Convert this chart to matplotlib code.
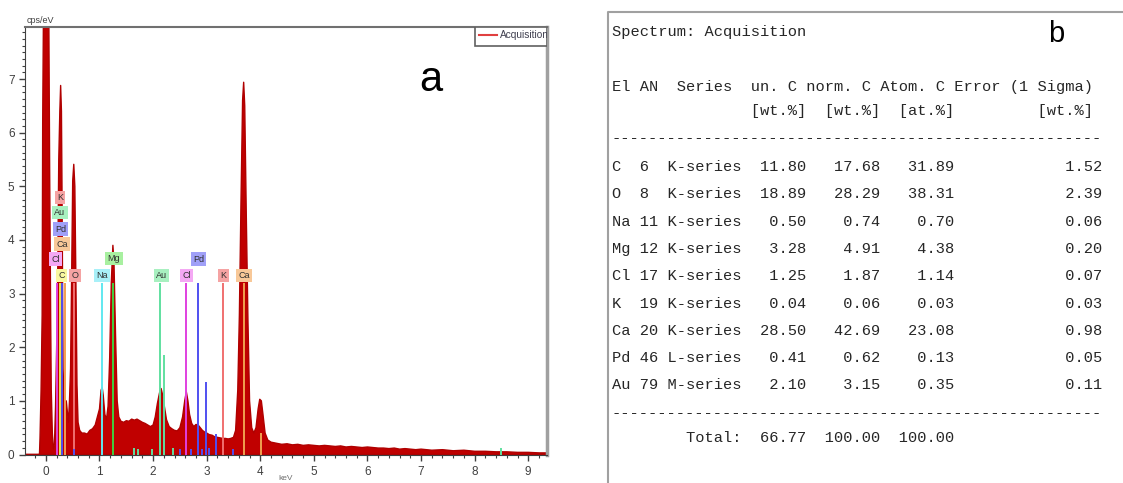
import matplotlib.pyplot as plt
from matplotlib.ticker import MultipleLocator
from matplotlib.patches import Rectangle

# EDS spectrum: energy (keV) and intensity (cps/eV)
energy = [-0.39, -0.12, -0.11, -0.09, -0.07, -0.06, -0.04, 0.01, 0.05, 0.07, 0.09,
          0.10, 0.12, 0.14, 0.16, 0.18, 0.20, 0.22, 0.24, 0.26, 0.275, 0.29, 0.30,
          0.32, 0.34, 0.36, 0.38, 0.40, 0.42, 0.44, 0.46, 0.48, 0.50, 0.52, 0.54,
          0.56, 0.58, 0.60, 0.63, 0.67, 0.72, 0.77, 0.82, 0.87, 0.92, 0.96, 1.00,
          1.03, 1.05, 1.07, 1.10, 1.13, 1.16, 1.19, 1.22, 1.25, 1.27, 1.30, 1.33,
          1.36, 1.40, 1.45, 1.50, 1.55, 1.60, 1.65, 1.70, 1.75, 1.80, 1.85, 1.90,
          1.95, 2.00, 2.04, 2.08, 2.12, 2.15, 2.18, 2.21, 2.25, 2.30, 2.35, 2.40,
          2.45, 2.50, 2.55, 2.59, 2.62, 2.65, 2.68, 2.72, 2.76, 2.80, 2.84, 2.88,
          2.92, 2.96, 3.00, 3.05, 3.10, 3.15, 3.20, 3.25, 3.30, 3.35, 3.40, 3.45,
          3.50, 3.54, 3.58, 3.61, 3.64, 3.67, 3.69, 3.71, 3.74, 3.77, 3.80, 3.84,
          3.88, 3.92, 3.96, 3.99, 4.02, 4.05, 4.09, 4.14, 4.20, 4.30, 4.40, 4.50,
          4.60, 4.70, 4.80, 4.90, 5.00, 5.10, 5.20, 5.30, 5.40, 5.50, 5.60, 5.70,
          5.80, 5.90, 6.00, 6.10, 6.20, 6.30, 6.40, 6.50, 6.60, 6.70, 6.80, 6.90,
          7.00, 7.20, 7.40, 7.60, 7.80, 8.00, 8.20, 8.40, 8.60, 8.80, 9.00, 9.20,
          9.35]
cps = [0.0, 0.0, 0.3, 1.2, 2.6, 6.2, 9.0, 9.5, 9.0, 5.3, 2.4,
       1.2, 0.4, 0.1, 0.2, 0.9, 1.97, 3.3, 5.5, 6.4, 6.88, 6.4, 5.0,
       1.6, 1.0, 0.9, 1.0, 0.8, 0.6, 1.0, 1.6, 3.3, 5.1, 5.41, 5.0,
       3.2, 1.3, 0.6, 0.45, 0.40, 0.40, 0.38, 0.45, 0.48, 0.55, 0.70, 0.85,
       1.20, 1.25, 1.10, 0.75, 0.65, 0.90, 1.80, 3.20, 3.90, 3.60, 2.20, 1.00,
       0.70, 0.62, 0.60, 0.63, 0.62, 0.66, 0.64, 0.66, 0.63, 0.60, 0.58, 0.55,
       0.52, 0.55, 0.70, 0.95, 1.15, 1.23, 1.10, 0.90, 0.65, 0.52, 0.48, 0.45,
       0.44, 0.50, 0.70, 1.00, 1.17, 1.00, 0.75, 0.58, 0.52, 0.56, 0.55, 0.50,
       0.45, 0.42, 0.40, 0.37, 0.36, 0.33, 0.32, 0.31, 0.30, 0.30, 0.29, 0.30,
       0.32, 0.45, 1.20, 2.60, 4.70, 6.60, 6.94, 6.50, 4.40, 2.50, 1.00, 0.50,
       0.40, 0.50, 0.85, 1.03, 1.00, 0.75, 0.40, 0.27, 0.23, 0.21, 0.19, 0.20,
       0.18, 0.19, 0.17, 0.18, 0.17, 0.16, 0.17, 0.16, 0.15, 0.16, 0.14, 0.15,
       0.14, 0.13, 0.14, 0.13, 0.12, 0.12, 0.11, 0.12, 0.10, 0.11, 0.10, 0.09,
       0.10, 0.08, 0.09, 0.07, 0.08, 0.06, 0.06, 0.05, 0.05, 0.04, 0.04, 0.03,
       0.03]

# element marker lines (keV, height in cps/eV, element)
line_energy = [0.21, 0.26, 0.30, 0.355, 0.525, 1.041, 1.253, 2.12, 2.20, 2.621,
               2.838, 2.99, 3.17, 3.312, 3.69, 4.01,
               0.53, 1.65, 1.72, 1.98, 2.38, 2.50, 2.70, 2.92, 3.05, 3.50, 8.49]
line_height = [3.2, 3.2, 3.2, 3.2, 3.2, 3.2, 3.2, 3.2, 1.85, 3.2,
               3.2, 1.35, 0.38, 3.2, 3.2, 0.40,
               0.10, 0.12, 0.10, 0.10, 0.12, 0.10, 0.10, 0.10, 0.12, 0.10, 0.12]
line_elem = ['Cl', 'C', 'Pd', 'Ca', 'O', 'Na', 'Mg', 'Au', 'Au', 'Cl',
             'Pd', 'Pd', 'Pd', 'K', 'Ca', 'Ca',
             'Pd', 'Au', 'Au', 'Au', 'Au', 'Pd', 'Pd', 'Pd', 'Pd', 'Pd', 'Au']

# element tags placed above the marker lines
tag_elem = ['K', 'Au', 'Pd', 'Ca', 'Cl', 'C', 'O', 'Na', 'Mg', 'Au', 'Cl', 'Pd', 'K', 'Ca']
tag_energy = [0.26, 0.26, 0.27, 0.30, 0.18, 0.29, 0.54, 1.04, 1.27, 2.16, 2.62, 2.85, 3.31, 3.70]
tag_level = [4.79, 4.51, 4.20, 3.92, 3.64, 3.34, 3.34, 3.34, 3.65, 3.34, 3.34, 3.64, 3.34, 3.34]

line_colors = {'C': '#e8e850', 'O': '#f07070', 'Na': '#60e8f0', 'Mg': '#40d040',
               'Cl': '#e040e0', 'K': '#f07070', 'Ca': '#f0a050', 'Pd': '#5050f0',
               'Au': '#60e0a0'}
tag_colors = {'C': '#f8f8a0', 'O': '#f5a3a3', 'Na': '#a8f0f8', 'Mg': '#a8f0a0',
              'Cl': '#f4a8f4', 'K': '#f5a3a3', 'Ca': '#f8c898', 'Pd': '#a0a0f8',
              'Au': '#a8f0c0'}

# quantification results
elements = ['C', 'O', 'Na', 'Mg', 'Cl', 'K', 'Ca', 'Pd', 'Au']
atomic_no = [6, 8, 11, 12, 17, 19, 20, 46, 79]
series = ['K-series'] * 7 + ['L-series', 'M-series']
un_c = [11.80, 18.89, 0.50, 3.28, 1.25, 0.04, 28.50, 0.41, 2.10]
norm_c = [17.68, 28.29, 0.74, 4.91, 1.87, 0.06, 42.69, 0.62, 3.15]
atom_c = [31.89, 38.31, 0.70, 4.38, 1.14, 0.03, 23.08, 0.13, 0.35]
error = [1.52, 2.39, 0.06, 0.20, 0.07, 0.03, 0.98, 0.05, 0.11]
totals = [66.77, 100.00, 100.00]

W, H = 1123, 483
fig = plt.figure(figsize=(W / 100, H / 100), dpi=100)

# ---- spectrum panel ----
ax = fig.add_axes([25 / W, (H - 454.5) / H, 522 / W, 427.5 / H])
ax.fill_between(energy, cps, color='#c00000', lw=1.0, edgecolor='#b00000', zorder=2)

for e, h, el in zip(line_energy, line_height, line_elem):
    ax.vlines(e, 0, h, color=line_colors[el], lw=1.4, zorder=3)

for el, e, lvl in zip(tag_elem, tag_energy, tag_level):
    ax.text(e, lvl, el, ha='center', va='center', fontsize=6.5, color='#303030',
            family='Liberation Sans', zorder=4,
            bbox=dict(boxstyle='square,pad=0.25', fc=tag_colors[el], ec='none'))

ax.set_xlim(-0.39, 9.35)
ax.set_ylim(0, 7.97)
ax.xaxis.set_major_locator(MultipleLocator(1))
ax.xaxis.set_minor_locator(MultipleLocator(0.2))
ax.yaxis.set_major_locator(MultipleLocator(1))
ax.yaxis.set_minor_locator(MultipleLocator(0.125))
ax.tick_params(which='both', direction='out', color='#404040', labelcolor='#404040',
               labelsize=8.5)
ax.tick_params(which='major', length=4.5, width=1)
ax.tick_params(which='minor', length=2.5, width=0.8)
ax.tick_params(axis='x', pad=4)
ax.tick_params(axis='y', pad=3)
for lab in ax.get_xticklabels() + ax.get_yticklabels():
    lab.set_family('Liberation Sans')

ax.spines['left'].set_color('#404040')
ax.spines['bottom'].set_color('#404040')
ax.spines['top'].set_color('#707070')
ax.spines['top'].set_linewidth(1.5)
ax.spines['right'].set_color('#a0a0a0')
ax.spines['right'].set_linewidth(2.5)

ax.text(0.004, 1.005, 'cps/eV', transform=ax.transAxes, fontsize=6.5, color='#404040',
        family='Liberation Sans', va='bottom', ha='left')

# legend box in the top right corner
ax.add_patch(Rectangle((0.862, 0.9556), 0.138, 0.0444, transform=ax.transAxes,
                       fc='white', ec='#606060', lw=1.2, zorder=5))
ax.plot([0.870, 0.904], [0.981, 0.981], transform=ax.transAxes, color='#e04040',
        lw=1.5, zorder=6)
ax.text(0.909, 0.981, 'Acquisition', transform=ax.transAxes, fontsize=7.3,
        color='#404050', va='center', ha='left', zorder=6, clip_on=True,
        family='Liberation Sans')

# full-figure overlay in pixel coordinates, drawn above the spectrum axes
ov = fig.add_axes([0, 0, 1, 1])
ov.set_xlim(0, W)
ov.set_ylim(H, 0)
ov.axis('off')
ov.patch.set_visible(False)

# energy axis title sits between the 4 and 5 tick labels
ov.text(286, 478, 'keV', fontsize=6, color='#707070', ha='center', va='center',
        family='Liberation Sans')
ov.text(431, 80, 'a', fontsize=30, ha='center', va='center', family='Liberation Sans',
        color='black')

# ---- quantification table panel ----
ov.plot([608, 608, W], [H, 12, 12], color='#a0a0a0', lw=1.5)
ov.text(1056, 34, 'b', fontsize=21, ha='center', va='center', family='Liberation Sans',
        color='black')

mono = dict(family='Liberation Mono', fontsize=11.1, color='#262626', va='center',
            ha='left')
x0 = 612
ov.text(x0, 32, 'Spectrum: Acquisition', **mono)
ov.text(x0, 87, 'El AN  Series  un. C norm. C Atom. C Error (1 Sigma)', **mono)
ov.text(x0, 111, ' ' * 15 + '[wt.%]  [wt.%]  [at.%]' + ' ' * 9 + '[wt.%]', **mono)
ov.text(x0, 138, '-' * 53, **mono)
for i, (el, an, ser, u, n, a, e) in enumerate(zip(elements, atomic_no, series,
                                                  un_c, norm_c, atom_c, error)):
    row = f'{el:<2} {an:<2} {ser:<8}{u:>7.2f}{n:>8.2f}{a:>8.2f}{e:>16.2f}'
    ov.text(x0, 167 + i * 27.3, row, **mono)
ov.text(x0, 413, '-' * 53, **mono)
ov.text(x0, 438, ' ' * 8 + 'Total:' + f'{totals[0]:>7.2f}{totals[1]:>8.2f}{totals[2]:>8.2f}',
        **mono)

fig.savefig('out.png', dpi=100)
